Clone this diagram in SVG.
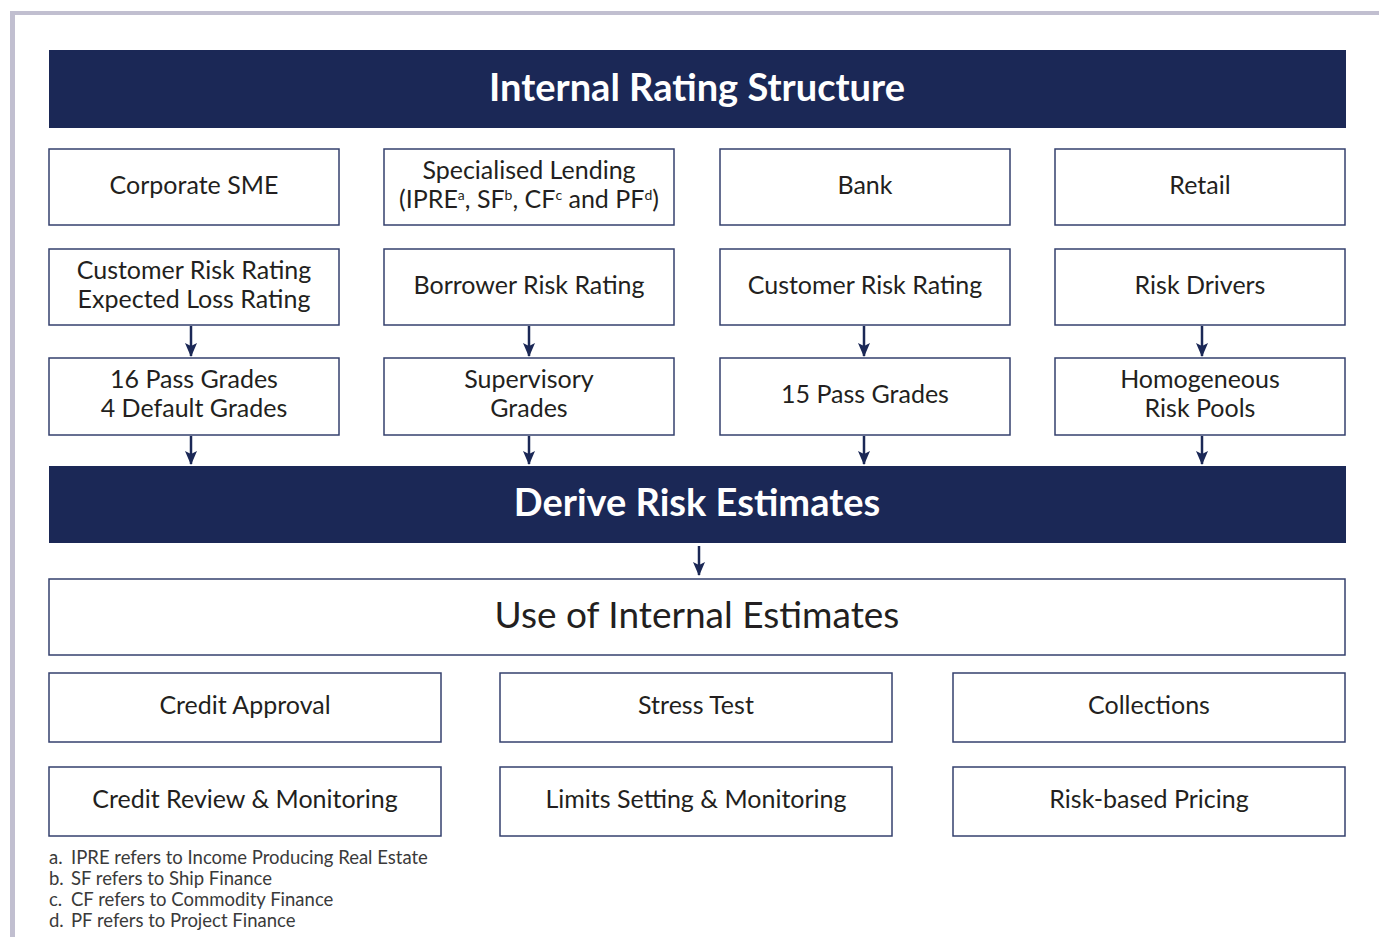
<svg xmlns="http://www.w3.org/2000/svg" width="1379" height="937" viewBox="0 0 1379 937">
<defs>
<style>
.bx{fill:#fff;stroke:#34406e;stroke-width:1.5}
.bar{fill:#1b2856}
.t{font-family:Lato,"Open Sans","Liberation Sans",sans-serif;font-size:25px;fill:#231f20;text-anchor:middle}
.h{font-family:Lato,"Open Sans","Liberation Sans",sans-serif;font-size:38px;font-weight:bold;fill:#fff;text-anchor:middle}
.fn{font-family:Lato,"Open Sans","Liberation Sans",sans-serif;font-size:18.5px;fill:#3a3a3a}
.ar{stroke:#1b2856;stroke-width:2.5;fill:none}
.sup{font-size:14px}
</style>
<marker id="ah" viewBox="0 0 14 12" refX="13" refY="6" markerWidth="14" markerHeight="12" markerUnits="userSpaceOnUse" orient="auto">
<path d="M0,0 L3,6 L0,12 L14,6 Z" fill="#1b2856"/>
</marker>
</defs>
<rect x="10" y="11" width="1369" height="4" fill="#c1bfd0"/>
<rect x="10" y="11" width="5" height="926" fill="#c1bfd0"/>

<g id="title"><rect class="bar" x="49" y="50" width="1297" height="78"/><text class="h" x="697" y="101">Internal Rating Structure</text></g>

<g id="n-corporate"><rect class="bx" x="49" y="149" width="290" height="76"/><text class="t" x="194" y="194">Corporate SME</text></g>
<g id="n-specialised"><rect class="bx" x="384" y="149" width="290" height="76"/><text class="t" x="529" y="179">Specialised Lending</text><text class="t" x="529" y="208">(IPRE<tspan class="sup" dy="-8">a</tspan><tspan dy="8">, SF</tspan><tspan class="sup" dy="-8">b</tspan><tspan dy="8">, CF</tspan><tspan class="sup" dy="-8">c</tspan><tspan dy="8"> and PF</tspan><tspan class="sup" dy="-8">d</tspan><tspan dy="8">)</tspan></text></g>
<g id="n-bank"><rect class="bx" x="720" y="149" width="290" height="76"/><text class="t" x="865" y="194">Bank</text></g>
<g id="n-retail"><rect class="bx" x="1055" y="149" width="290" height="76"/><text class="t" x="1200" y="194">Retail</text></g>

<g id="n-crr1"><rect class="bx" x="49" y="249" width="290" height="76"/><text class="t" x="194" y="279">Customer Risk Rating</text><text class="t" x="194" y="308">Expected Loss Rating</text></g>
<g id="n-brr"><rect class="bx" x="384" y="249" width="290" height="76"/><text class="t" x="529" y="294">Borrower Risk Rating</text></g>
<g id="n-crr2"><rect class="bx" x="720" y="249" width="290" height="76"/><text class="t" x="865" y="294">Customer Risk Rating</text></g>
<g id="n-drivers"><rect class="bx" x="1055" y="249" width="290" height="76"/><text class="t" x="1200" y="294">Risk Drivers</text></g>

<g id="n-16pass"><rect class="bx" x="49" y="358" width="290" height="77"/><text class="t" x="194" y="388">16 Pass Grades</text><text class="t" x="194" y="417">4 Default Grades</text></g>
<g id="n-supervisory"><rect class="bx" x="384" y="358" width="290" height="77"/><text class="t" x="529" y="388">Supervisory</text><text class="t" x="529" y="417">Grades</text></g>
<g id="n-15pass"><rect class="bx" x="720" y="358" width="290" height="77"/><text class="t" x="865" y="403">15 Pass Grades</text></g>
<g id="n-pools"><rect class="bx" x="1055" y="358" width="290" height="77"/><text class="t" x="1200" y="388">Homogeneous</text><text class="t" x="1200" y="417">Risk Pools</text></g>

<g id="derive"><rect class="bar" x="49" y="466" width="1297" height="77"/><text class="h" x="697" y="516">Derive Risk Estimates</text></g>

<g id="use"><rect class="bx" x="49" y="579" width="1296" height="76"/><text class="t" x="697" y="628" style="font-size:37px">Use of Internal Estimates</text></g>

<g id="n-approval"><rect class="bx" x="49" y="673" width="392" height="69"/><text class="t" x="245" y="714">Credit Approval</text></g>
<g id="n-stress"><rect class="bx" x="500" y="673" width="392" height="69"/><text class="t" x="696" y="714">Stress Test</text></g>
<g id="n-collections"><rect class="bx" x="953" y="673" width="392" height="69"/><text class="t" x="1149" y="714">Collections</text></g>
<g id="n-review"><rect class="bx" x="49" y="767" width="392" height="69"/><text class="t" x="245" y="808">Credit Review &amp; Monitoring</text></g>
<g id="n-limits"><rect class="bx" x="500" y="767" width="392" height="69"/><text class="t" x="696" y="808">Limits Setting &amp; Monitoring</text></g>
<g id="n-pricing"><rect class="bx" x="953" y="767" width="392" height="69"/><text class="t" x="1149" y="808">Risk-based Pricing</text></g>

<g id="connectors">
<line class="ar" x1="191" y1="326" x2="191" y2="356" marker-end="url(#ah)"/>
<line class="ar" x1="529" y1="326" x2="529" y2="356" marker-end="url(#ah)"/>
<line class="ar" x1="864" y1="326" x2="864" y2="356" marker-end="url(#ah)"/>
<line class="ar" x1="1202" y1="326" x2="1202" y2="356" marker-end="url(#ah)"/>
<line class="ar" x1="191" y1="436" x2="191" y2="464" marker-end="url(#ah)"/>
<line class="ar" x1="529" y1="436" x2="529" y2="464" marker-end="url(#ah)"/>
<line class="ar" x1="864" y1="436" x2="864" y2="464" marker-end="url(#ah)"/>
<line class="ar" x1="1202" y1="436" x2="1202" y2="464" marker-end="url(#ah)"/>
<line class="ar" x1="699" y1="546" x2="699" y2="575" marker-end="url(#ah)"/>
</g>

<g id="footnotes">
<text class="fn" x="49" y="864">a.<tspan x="71">IPRE refers to Income Producing Real Estate</tspan></text>
<text class="fn" x="49" y="885">b.<tspan x="71">SF refers to Ship Finance</tspan></text>
<text class="fn" x="49" y="906">c.<tspan x="71">CF refers to Commodity Finance</tspan></text>
<text class="fn" x="49" y="927">d.<tspan x="71">PF refers to Project Finance</tspan></text>
</g>
</svg>
